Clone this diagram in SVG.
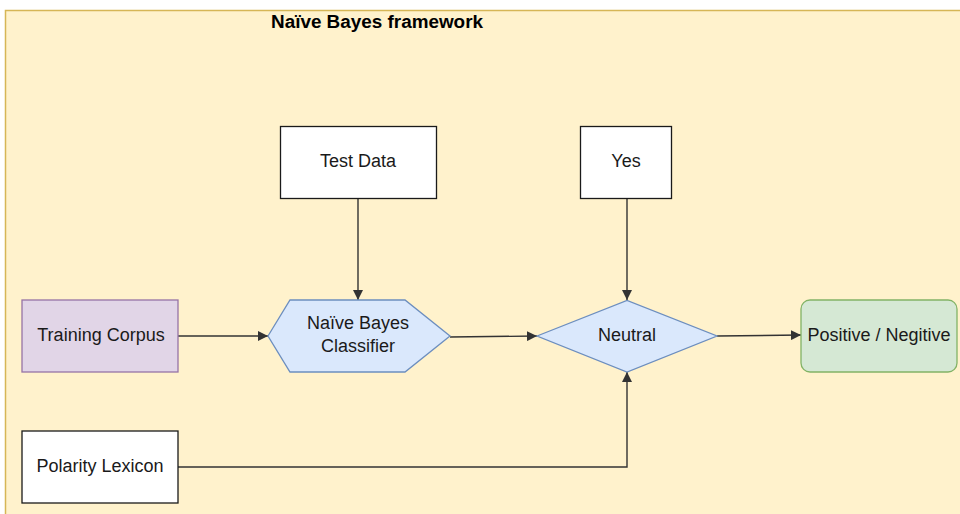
<svg xmlns="http://www.w3.org/2000/svg" width="960" height="514" viewBox="0 0 960 514">
  <style>
    .lbl { font-family: "Liberation Sans", Arial, sans-serif; font-size: 18px; fill: #1a1a1a; text-anchor: middle; dominant-baseline: central; }
    .title { font-family: "Liberation Sans", Arial, sans-serif; font-size: 18px; font-weight: bold; fill: #000; }
    .plain { fill: #ffffff; stroke: #1a1a1a; stroke-width: 1.3; }
    .edge { fill: none; stroke: #333333; stroke-width: 1.4; }
  </style>
  <defs>
    <marker id="arrow" viewBox="0 0 10 10" refX="10" refY="5" markerWidth="10" markerHeight="10" markerUnits="userSpaceOnUse" orient="auto">
      <path d="M0,0 L10,5 L0,10 Z" fill="#333333"/>
    </marker>
  </defs>

  <rect width="960" height="514" fill="#ffffff"/>

  <!-- container -->
  <g id="framework">
    <rect x="5.5" y="10.5" width="970" height="520" fill="#fff2cc" stroke="#d6b656" stroke-width="1.5"/>
    <text class="title" x="271" y="28" textLength="212" lengthAdjust="spacingAndGlyphs">Naïve Bayes framework</text>
  </g>

  <!-- connectors -->
  <g id="connectors">
    <line class="edge" x1="178" y1="336" x2="268" y2="336" marker-end="url(#arrow)"/>
    <line class="edge" x1="358" y1="198" x2="358" y2="300" marker-end="url(#arrow)"/>
    <line class="edge" x1="450" y1="337" x2="537" y2="336" marker-end="url(#arrow)"/>
    <line class="edge" x1="627" y1="198" x2="627" y2="300" marker-end="url(#arrow)"/>
    <line class="edge" x1="717" y1="336" x2="801" y2="335" marker-end="url(#arrow)"/>
    <polyline class="edge" points="178,467 627,467 627,372" marker-end="url(#arrow)"/>
  </g>

  <g id="test-data">
    <rect class="plain" x="280.5" y="126.5" width="156" height="72"/>
    <text class="lbl" x="358" y="161">Test Data</text>
  </g>

  <g id="yes">
    <rect class="plain" x="580.5" y="126.5" width="91" height="72"/>
    <text class="lbl" x="626" y="161">Yes</text>
  </g>

  <g id="training-corpus">
    <rect x="22" y="300" width="156" height="72" fill="#e1d5e7" stroke="#9673a6" stroke-width="1.3"/>
    <text class="lbl" x="101" y="335">Training Corpus</text>
  </g>

  <g id="classifier">
    <polygon points="268,336 290,300 405,300 450,336 405,372 290,372" fill="#dae8fc" stroke="#6c8ebf" stroke-width="1.3"/>
    <text class="lbl" x="358" y="323">Naïve Bayes</text>
    <text class="lbl" x="358" y="346">Classifier</text>
  </g>

  <g id="neutral">
    <polygon points="537,336 627,300.5 717,336 627,372" fill="#dae8fc" stroke="#6c8ebf" stroke-width="1.3"/>
    <text class="lbl" x="627" y="335">Neutral</text>
  </g>

  <g id="positive-negative">
    <rect x="801" y="300" width="156" height="72" rx="9" ry="9" fill="#d5e8d4" stroke="#82b366" stroke-width="1.3"/>
    <text class="lbl" x="879" y="335">Positive / Negitive</text>
  </g>

  <g id="polarity-lexicon">
    <rect class="plain" x="22" y="431" width="156" height="72"/>
    <text class="lbl" x="100" y="466">Polarity Lexicon</text>
  </g>
</svg>
